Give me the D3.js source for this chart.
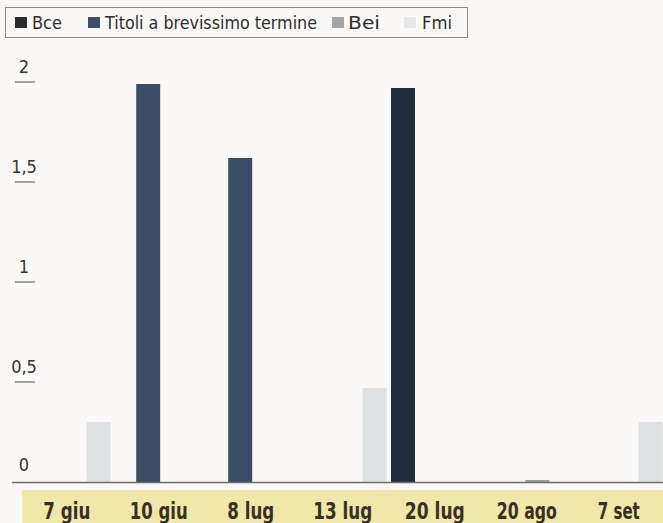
<!DOCTYPE html>
<html>
<head>
<meta charset="utf-8">
<script src="https://cdn.jsdelivr.net/npm/d3@7/dist/d3.min.js"></script>
<style>
  html, body { margin: 0; padding: 0; background: #fbf9f7; }
  svg { display: block; }
</style>
</head>
<body>
<svg id="chart" width="663" height="523"></svg>
<script>
const categories = ["7 giu", "10 giu", "8 lug", "13 lug", "20 lug", "20 ago", "7 set"];
const seriesNames = ["Bce", "Titoli a brevissimo termine", "Bei", "Fmi"];
const bce    = [0, 0, 0, 0, 1.97, 0, 0];
const titoli = [0, 1.99, 1.62, 0, 0, 0, 0];
const bei    = [0, 0, 0, 0, 0, 0.01, 0];
const fmi    = [0.30, 0, 0, 0.47, 0, 0, 0.30];
const yTicks = [0, 0.5, 1, 1.5, 2];
const yTickLabels = ["0", "0,5", "1", "1,5", "2"];

const seriesValues = [bce, titoli, bei, fmi];
const colors = ["#222b3b", "#3c4e66", "#9ba0a4", "#dfe2e3"];
const legendSwatch = ["#2a2a2a", "#3c4e66", "#a3a6a8", "#e6e6e6"];

const svg = d3.select("#chart");
const W = 663, H = 523;
const condensed = "'DejaVu Sans Condensed', 'Liberation Sans Narrow', 'Roboto Condensed', sans-serif";

svg.append("rect").attr("width", W).attr("height", H).attr("fill", "#fbf9f7");

const y = d3.scaleLinear().domain([0, 2]).range([482, 82]);

const x = d3.scaleBand().domain(categories).range([20.8, 664.8])
  .paddingInner(0.0783).paddingOuter(0.0783 / 2);
const xs = d3.scaleBand().domain(seriesNames).range([0, x.bandwidth()]);
const barW = 24;

// data table built from arrays
const rows = [];
categories.forEach((c, i) => {
  seriesNames.forEach((s, j) => {
    rows.push({ cat: c, series: s, idx: j, value: seriesValues[j][i] });
  });
});

// yellow label strip
svg.append("rect").attr("x", 22).attr("y", 490).attr("width", W - 22).attr("height", H - 490)
  .attr("fill", "#efe8a9");

// bars
svg.append("g").selectAll("rect")
  .data(rows.filter(d => d.value > 0))
  .join("rect")
  .attr("x", d => x(d.cat) + xs(d.series) + xs.bandwidth() / 2 - barW / 2)
  .attr("width", barW)
  .attr("y", d => y(d.value))
  .attr("height", d => y(0) - y(d.value))
  .attr("fill", d => colors[d.idx]);

// baseline
svg.append("line").attr("x1", 12).attr("x2", W).attr("y1", y(0) + 0.5).attr("y2", y(0) + 0.5)
  .attr("stroke", "#6e6e6e").attr("stroke-width", 1.5);

// y ticks (short underlines) and labels
const yg = svg.append("g");
yg.selectAll("line")
  .data(yTicks.filter(t => t > 0))
  .join("line")
  .attr("x1", 15).attr("x2", 35)
  .attr("y1", d => y(d)).attr("y2", d => y(d))
  .attr("stroke", "#7a7a7a").attr("stroke-width", 1.4);
yg.selectAll("text")
  .data(yTicks)
  .join("text")
  .attr("x", 24)
  .attr("y", d => y(d) - (d === 0 ? 11 : 9))
  .attr("text-anchor", "middle")
  .attr("font-family", condensed)
  .attr("font-size", 18)
  .attr("fill", "#333")
  .text((d, i) => yTickLabels[i]);

// x axis labels via d3 axis
const xLabelW = [47, 58, 47, 59, 60, 60, 42];
const xAxis = d3.axisBottom(x).tickSize(0).tickPadding(0);
const xg = svg.append("g").attr("transform", "translate(0,0)").call(xAxis);
xg.select(".domain").remove();
xg.selectAll("text")
  .attr("y", 519)
  .attr("dy", 0)
  .attr("font-family", condensed)
  .attr("font-size", 23)
  .attr("font-weight", "bold")
  .attr("fill", "#3a2f25")
  .attr("textLength", (d, i) => xLabelW[i])
  .attr("lengthAdjust", "spacingAndGlyphs");

// legend
const lg = svg.append("g");
lg.append("rect").attr("x", 5.5).attr("y", 7.5).attr("width", 462).attr("height", 30)
  .attr("fill", "#fbf9f7").attr("stroke", "#8a8a8a").attr("stroke-width", 1);
const legendX = [15, 88, 332, 404];
const legendTextX = [32, 105, 348, 422];
const legendTextW = [30, 212, 32, 30];
seriesNames.forEach((s, i) => {
  lg.append("rect").attr("x", legendX[i]).attr("y", 17).attr("width", 12).attr("height", 11)
    .attr("fill", legendSwatch[i]);
  lg.append("text").attr("x", legendTextX[i]).attr("y", 29)
    .attr("font-family", condensed).attr("font-size", 18).attr("fill", "#2e2e2e")
    .attr("textLength", legendTextW[i]).attr("lengthAdjust", "spacingAndGlyphs")
    .text(s);
});
</script>
</body>
</html>
